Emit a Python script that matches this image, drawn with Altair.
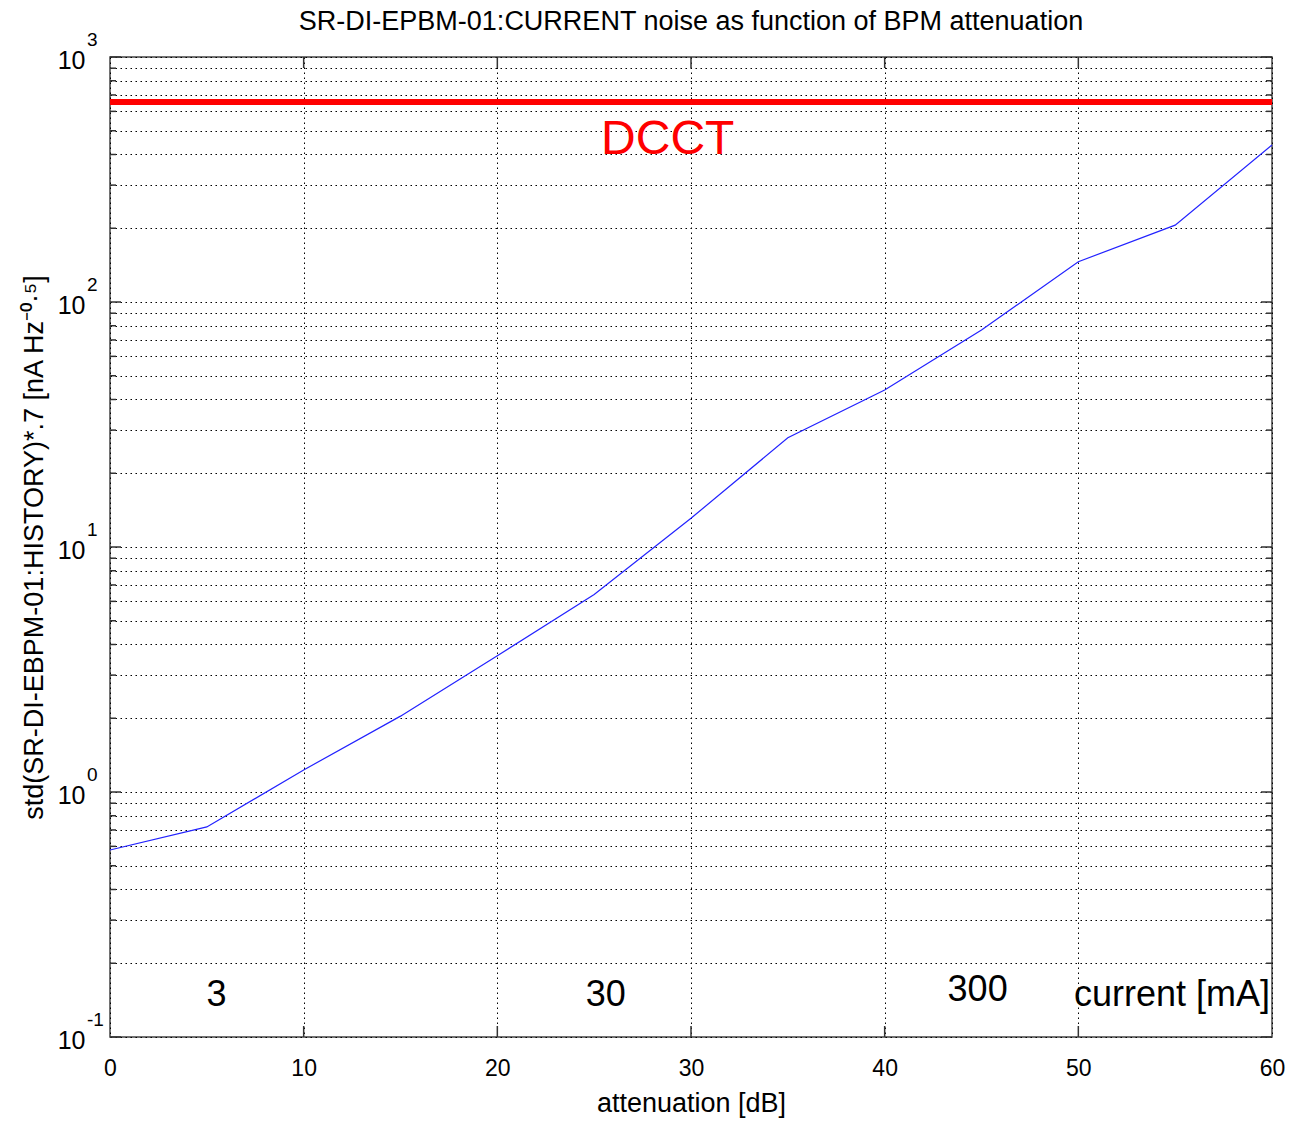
import altair as alt
import pandas as pd

# ---- data ----
atten_db = [0, 5, 10, 15, 20, 25, 30, 35, 40, 45, 50, 55, 60]
noise = [0.58, 0.72, 1.23, 2.04, 3.6, 6.4, 13.1, 27.9, 43.7, 76.8, 146, 206, 437]
dcct_level = [655]
decades = [0.1, 1, 10, 100, 1000]
exponents = ["-1", "0", "1", "2", "3"]
x_ticks = [0, 10, 20, 30, 40, 50, 60]
inner_x_ticks = [10, 20, 30, 40, 50]
current_labels = ["3", "30", "300", "current [mA]"]
current_x = [5.5, 25.6, 44.8, 59.9]
current_y = [0.148, 0.148, 0.155, 0.148]
current_align = ["center", "center", "center", "right"]
dcct_label = ["DCCT"]
dcct_label_x = [28.8]
dcct_label_y = [458]

minor_vals = [round(m * d, 6) for d in [0.1, 1, 10, 100] for m in range(1, 10)] + [1000]
minor_only = [v for v in minor_vals if v not in decades]

W, H = 1162, 980
FONT = "Liberation Sans"

xscale = alt.Scale(domain=[0, 60], nice=False, zero=False)
yscale = alt.Scale(type="log", domain=[0.1, 1000], nice=False)

noise_df = pd.DataFrame({"att": atten_db, "noise": noise})
dcct_df = pd.DataFrame({"v": dcct_level})
dec_df = pd.DataFrame({"v": decades, "e": exponents})
minor_df = pd.DataFrame({"v": minor_only})
xt_df = pd.DataFrame({"x": inner_x_ticks})
cur_df = pd.DataFrame({"t": current_labels, "x": current_x, "y": current_y, "a": current_align})
dcct_lbl_df = pd.DataFrame({"t": dcct_label, "x": dcct_label_x, "y": dcct_label_y})

x_axis = alt.Axis(
    values=x_ticks, title="attenuation [dB]", grid=True, gridDash=[1.5, 3.5], gridColor="#000",
    gridWidth=1, ticks=False, domain=False, labelFont=FONT, labelFontSize=23,
    labelPadding=20, titleFont=FONT, titleFontSize=27, titleFontWeight="normal",
    titlePadding=10, labelColor="#000", titleColor="#000", labelFlush=False,
)
y_axis = alt.Axis(
    values=minor_vals, title="std(SR-DI-EBPM-01:HISTORY)*.7 [nA Hz⁻⁰·⁵]", grid=True,
    gridDash=[1.5, 3.5], gridColor="#000", gridWidth=1, ticks=False, domain=False,
    labelExpr="abs(log(datum.value)/log(10) - round(log(datum.value)/log(10))) < 1e-6 ? '10' : ''",
    labelFont=FONT, labelFontSize=25, labelPadding=25, labelOffset=3,
    titleFont=FONT, titleFontSize=27, titleFontWeight="normal", titlePadding=9,
    labelColor="#000", titleColor="#000", labelFlush=False,
)

base_line = alt.Chart(noise_df).mark_line(color="#2222ff", strokeWidth=1.2).encode(
    x=alt.X("att:Q", scale=xscale, axis=x_axis),
    y=alt.Y("noise:Q", scale=yscale, axis=y_axis),
)

dcct_rule = alt.Chart(dcct_df).mark_rule(color="#ff0000", strokeWidth=6).encode(
    y=alt.Y("v:Q", scale=yscale),
)

# inward ticks (MATLAB style)
tick_col = "#333"
left_major = alt.Chart(dec_df).mark_rule(color=tick_col, strokeWidth=1.5).encode(
    y=alt.Y("v:Q", scale=yscale), x=alt.value(0), x2=alt.value(11))
left_minor = alt.Chart(minor_df).mark_rule(color=tick_col, strokeWidth=1.5).encode(
    y=alt.Y("v:Q", scale=yscale), x=alt.value(0), x2=alt.value(6))
right_major = alt.Chart(dec_df).mark_rule(color=tick_col, strokeWidth=1.5).encode(
    y=alt.Y("v:Q", scale=yscale), x=alt.value(W - 11), x2=alt.value(W))
right_minor = alt.Chart(minor_df).mark_rule(color=tick_col, strokeWidth=1.5).encode(
    y=alt.Y("v:Q", scale=yscale), x=alt.value(W - 6), x2=alt.value(W))
bottom_ticks = alt.Chart(xt_df).mark_rule(color=tick_col, strokeWidth=1.5).encode(
    x=alt.X("x:Q", scale=xscale), y=alt.value(H), y2=alt.value(H - 11))
top_ticks = alt.Chart(xt_df).mark_rule(color=tick_col, strokeWidth=1.5).encode(
    x=alt.X("x:Q", scale=xscale), y=alt.value(0), y2=alt.value(11))

# exponent superscripts for y tick labels
exps = alt.Chart(dec_df).mark_text(
    align="left", baseline="middle", font=FONT, fontSize=19, dy=-17, color="#000"
).encode(y=alt.Y("v:Q", scale=yscale), x=alt.value(-23), text="e:N")

cur_text_c = alt.Chart(cur_df[cur_df.a == "center"]).mark_text(
    align="center", baseline="middle", font=FONT, fontSize=36, color="#000"
).encode(x=alt.X("x:Q", scale=xscale), y=alt.Y("y:Q", scale=yscale), text="t:N")
cur_text_r = alt.Chart(cur_df[cur_df.a == "right"]).mark_text(
    align="right", baseline="middle", font=FONT, fontSize=36, color="#000"
).encode(x=alt.X("x:Q", scale=xscale), y=alt.Y("y:Q", scale=yscale), text="t:N")

dcct_text = alt.Chart(dcct_lbl_df).mark_text(
    align="center", baseline="middle", font=FONT, fontSize=48, color="#ff0000"
).encode(x=alt.X("x:Q", scale=xscale), y=alt.Y("y:Q", scale=yscale), text="t:N")

chart = alt.layer(
    base_line, dcct_rule, left_major, left_minor, right_major, right_minor,
    bottom_ticks, top_ticks, exps, cur_text_c, cur_text_r, dcct_text,
).properties(
    width=W, height=H,
    title=alt.TitleParams(
        "SR-DI-EPBM-01:CURRENT noise as function of BPM attenuation",
        font=FONT, fontSize=27, fontWeight="normal", color="#000", offset=-5, anchor="middle",
    ),
    autosize=alt.AutoSizeParams(type="none"),
    padding={"left": 110, "top": 57, "right": 18, "bottom": 86},
    background="white",
).configure_view(stroke="#444", strokeWidth=1.5)

chart.save("out.html", embed_options={"renderer": "svg", "actions": False})
